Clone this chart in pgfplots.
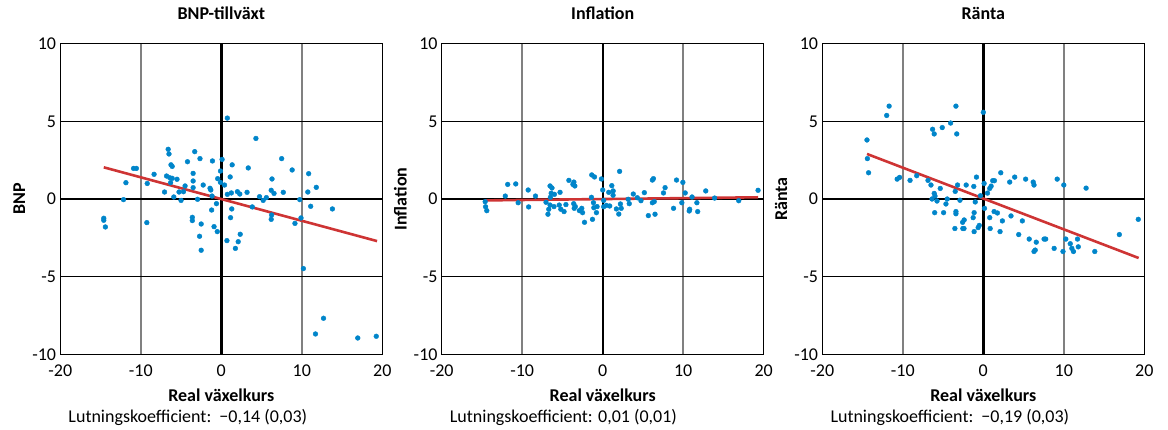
\documentclass[border=0pt]{standalone}
\usepackage{pgfplots}
\pgfplotsset{compat=1.18}
\usepackage{fontspec}
\setmainfont{Carlito}

\definecolor{dotblue}{RGB}{0,133,202}
\definecolor{fitred}{RGB}{206,52,52}
\definecolor{gridgray}{RGB}{128,128,128}

\pgfplotsset{
  panel/.style={
    scale only axis, width=322pt, height=310.6pt,
    anchor=south west,
    xmin=-20, xmax=20, ymin=-10, ymax=10,
    xtick={-20,-10,0,10,20}, xticklabels={-20,-10,0,10,20},
    ytick={-10,-5,0,5,10}, yticklabels={-10,-5,0,5,10},
    major tick length=0pt,
    axis line style={black, line width=1pt},
    xticklabel style={anchor=base, yshift=-21.7pt},
    yticklabel style={anchor=east, xshift=2pt},
    title style={at={(0.5,1)}, anchor=base, yshift=17.7pt, font=\bfseries},
    xlabel style={at={(0.5,0)}, anchor=base, yshift=-47.4pt, font=\bfseries},
    ylabel style={at={(axis description cs:-0.109,0.5)}, anchor=base, font=\bfseries},
    xlabel={Real växelkurs},
    clip=false,
  },
  dots/.style={only marks, mark=*, mark size=2.4pt, color=dotblue},
  fit/.style={no marks, color=fitred, line width=2.6pt},
}

% reference grid: grey verticals at +-10, black horizontals at +-5, heavy zero lines
\newcommand{\panelgrid}{%
  \draw[gridgray, line width=1.6pt] (axis cs:-10,-10) -- (axis cs:-10,10);
  \draw[gridgray, line width=1.6pt] (axis cs:10,-10) -- (axis cs:10,10);
  \draw[black, line width=1.1pt] (axis cs:-20,5) -- (axis cs:20,5);
  \draw[black, line width=1.1pt] (axis cs:-20,-5) -- (axis cs:20,-5);
  \draw[black, line width=2.4pt] (axis cs:0,-10) -- (axis cs:0,10);
  \draw[black, line width=2.4pt] (axis cs:-20,0) -- (axis cs:20,0);
}

\begin{document}
\fontsize{18}{21.6}\selectfont
\begin{tikzpicture}

% ---------------- BNP-tillväxt ----------------
\begin{axis}[panel, name=p1, at={(60.3pt,74.7pt)}, title={BNP-tillväxt}, ylabel={BNP}]
\panelgrid
\addplot[dots] coordinates {
(0.75,5.21) (4.3,3.9) (-6.6,3.2) (-6.5,2.9) (-3.3,3.05) (-2.65,2.6) (0.1,2.55)
(7.5,2.6) (-4.2,2.4) (-1.1,2.45) (-6.25,2.2) (-6.1,2.1) (1.35,2.2) (3.35,2.0)
(-10.9,1.97) (-10.55,1.97) (8.8,1.87) (-0.1,1.8) (-3.5,1.65) (10.85,1.63)
(-8.35,1.59) (-6.8,1.48) (1.1,1.42) (-6.4,1.37) (-6.1,1.33) (-5.5,1.27)
(-0.45,1.31) (-3.5,1.16) (6.3,1.29) (-11.85,1.05) (-9.2,1.0) (-0.1,1.07)
(-6.3,1.05) (-2.25,0.9) (-4.5,0.84) (0.4,0.9) (-3.5,0.73) (-1.4,0.69)
(-1.3,0.58) (11.8,0.75) (-7.05,0.45) (-5.25,0.45) (-4.7,0.47) (0.75,0.3)
(1.25,0.39) (2.0,0.47) (2.3,0.32) (3.2,0.43) (6.2,0.56) (6.55,0.36) (7.7,0.43)
(10.75,0.45) (-1.15,0.19) (-5.9,0.13) (4.75,0.15) (5.6,0.09) (-12.15,-0.04)
(-5.0,-0.09) (-2.95,-0.02) (5.2,-0.09) (9.75,-0.04) (-0.6,-0.3) (3.85,-0.51)
(11.1,-0.47) (13.8,-0.64) (-1.2,-0.71) (1.3,-0.64) (6.25,-1.03) (6.2,-1.31)
(-3.6,-1.18) (-3.6,-1.39) (1.15,-1.2) (9.9,-1.22) (-14.6,-1.24) (-14.6,-1.37)
(-14.4,-1.8) (-9.25,-1.52) (-2.5,-1.61) (9.15,-1.57) (-0.9,-1.78) (-0.5,-2.1)
(-2.7,-2.4) (2.35,-2.27) (0.7,-2.68) (2.1,-2.75) (1.75,-3.18) (-2.5,-3.3)
(10.2,-4.48) (12.7,-7.68) (11.7,-8.69) (16.95,-8.95) (19.25,-8.84)
};
\addplot[fit] coordinates {(-14.6,2.04) (19.35,-2.71)};
\end{axis}

% ---------------- Inflation ----------------
\begin{axis}[panel, name=p2, at={(441.7pt,74.7pt)}, title={Inflation}, ylabel={Inflation}]
\panelgrid
\addplot[dots] coordinates {
(-14.6,-0.17) (-14.55,-0.5) (-14.4,-0.75) (-12.1,0.19) (-11.8,0.94) (-10.8,0.97)
(-10.5,-0.24) (-9.26,0.58) (-9.2,-0.51) (-8.35,0.19) (-7.04,-0.21) (-6.54,0.84)
(-6.3,0.71) (-6.4,0.37) (-6.5,0.11) (-6.0,0.3) (-5.3,0.43) (-4.2,1.2)
(-3.58,1.09) (-3.46,0.84) (-3.7,0.94) (-6.54,-0.39) (-6.7,-0.66) (-6.8,-0.98)
(-6.05,-0.49) (-5.4,-0.39) (-5.2,-0.66) (-4.8,-0.81) (-4.57,-0.36) (-3.6,-0.3)
(-3.54,-0.6) (-3.4,-0.49) (-2.9,-0.75) (-2.6,-0.6) (-2.5,-0.88) (-2.26,-1.5)
(-1.27,-1.31) (-1.36,1.55) (-1.02,1.42) (-0.16,1.29) (-1.4,0.11) (-1.15,-0.24)
(-1.1,-0.56) (-0.7,-0.49) (-0.78,-0.88) (0,0.58) (0.12,-0.5)
(2.1,1.78) (1.13,0.86) (1.3,0.52) (0.75,0.43) (1.29,0.24) (0.12,-0.09)
(0.46,-0.41) (0.87,-0.45) (1.7,-0.64) (2.0,-0.97) (2.3,-0.6) (2.2,-0.32)
(3.17,-0.02) (3.3,-0.3) (3.8,0.32) (4.3,0.08) (4.75,-0.11) (5.17,0.41)
(6.17,1.22) (6.3,1.31) (6.17,-0.24) (6.4,-0.17) (6.5,-0.98) (5.67,-1.07)
(7.55,0.39) (7.75,0.73) (8.8,-0.6) (9.17,1.22) (9.96,1.07) (10.25,0.39)
(9.83,-0.24) (10.8,-0.66) (10.75,-0.77) (11.1,0.13) (11.7,-0.24) (11.8,-0.81)
(12.8,0.52) (13.9,0.06) (16.9,-0.11) (19.3,0.56)
};
\addplot[fit] coordinates {(-14.6,-0.09) (19.3,0.11)};
\end{axis}

% ---------------- Ränta ----------------
\begin{axis}[panel, name=p3, at={(822.3pt,74.7pt)}, title={Ränta}, ylabel={Ränta}]
\panelgrid
\addplot[dots] coordinates {
(-11.7,5.98) (-12.0,5.38) (-3.4,5.98) (0.0,5.58) (-6.3,4.49) (-6.1,4.19)
(-5.1,4.6) (-4.06,4.89) (-3.3,4.19) (-14.45,3.8) (-14.4,2.6) (-14.25,1.69)
(-10.7,1.28) (-10.4,1.39) (-9.1,1.2) (-8.27,1.5) (-6.87,1.2) (-6.5,0.9)
(-5.35,0.68) (-6.1,0.36) (-6.0,0.19) (-6.37,0.0) (-5.75,-0.13) (-4.48,0.0)
(-4.64,-0.32) (-3.49,0.49) (-3.2,0.9) (-2.13,0.9) (-1.18,0.81) (-0.85,1.41)
(-2.9,-0.08) (-1.0,-0.19) (-0.35,0.21) (-6.04,-0.88) (-4.93,-0.88) (-3.4,-0.81)
(-3.4,-0.95) (-1.14,-0.88) (-1.26,-1.2) (-2.38,-1.35) (-2.57,-1.5) (-3.53,-1.9)
(-2.54,-1.9) (-2.4,-1.9) (-1.14,-2.1) (-0.64,-1.84) (-0.5,-1.7) (0.15,-0.6)
(0.1,1.0) (0.52,0.38) (0.8,0.68) (0.97,0.83) (1.17,1.18) (1.38,1.18)
(2.17,1.69) (3.28,1.09) (3.9,1.41) (5.26,1.28) (6.2,1.09) (6.3,0.9)
(9.18,1.28) (10.0,0.9) (12.77,0.7) (0.8,-1.2) (1.34,-0.81) (1.75,-0.9)
(2.37,-1.41) (3.44,-1.09) (4.85,-1.41) (0.85,-1.9) (2.08,-2.1) (4.4,-2.29)
(5.7,-2.58) (6.58,-2.78) (7.55,-2.58) (7.75,-2.58) (6.3,-3.38) (6.45,-3.29)
(8.8,-3.18) (9.9,-3.38) (10.25,-2.58) (10.8,-2.88) (11.0,-3.18) (11.2,-3.38)
(11.7,-2.58) (11.8,-3.08) (13.85,-3.38) (16.9,-2.29) (19.25,-1.31)
};
\addplot[fit] coordinates {(-14.45,2.9) (19.3,-3.8)};
\end{axis}

% slope coefficients under each panel
\node[anchor=base west] at ([xshift=2pt,yshift=-68.4pt]p1.south west) {Lutningskoefficient:\ \ −0,14 (0,03)};
\node[anchor=base west] at ([xshift=2pt,yshift=-68.4pt]p2.south west) {Lutningskoefficient: 0,01 (0,01)};
\node[anchor=base west] at ([xshift=2pt,yshift=-68.4pt]p3.south west) {Lutningskoefficient:\ \ −0,19 (0,03)};

\pgfresetboundingbox
\path[use as bounding box] (0,0) rectangle (1168pt,429pt);
\end{tikzpicture}
\end{document}
